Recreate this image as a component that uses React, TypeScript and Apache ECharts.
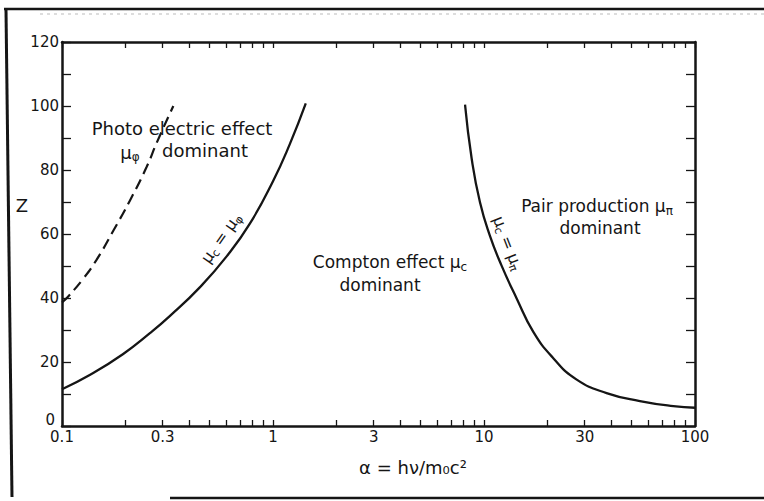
import React, { useEffect, useRef } from "react";
import * as echarts from "echarts";

// ---- data ----
// Boundary where photoelectric = Compton (dashed)
const dashedAlpha = [0.1, 0.107, 0.126, 0.146, 0.175, 0.21, 0.252, 0.281, 0.337];
const dashedZ = [38.6, 40.5, 46, 52, 61, 70.5, 81, 88.5, 100];

// mu_c = mu_phi (solid, left)
const leftAlpha = [0.1, 0.136, 0.195, 0.261, 0.325, 0.451, 0.603, 0.778, 1.0, 1.2, 1.43];
const leftZ = [11.5, 16, 22.5, 29, 34.4, 43.4, 53, 63.3, 76.5, 88, 100.8];

// mu_c = mu_pi (solid, right)
const rightAlpha = [8.13, 8.74, 9.57, 10.66, 12.1, 14.3, 17.1, 21.3, 27.5, 38.1, 54.8, 78.9, 100];
const rightZ = [100.4, 83.6, 69.9, 59.5, 50.2, 39.8, 29.5, 21.2, 14.5, 10.3, 7.8, 6.2, 5.7];

// axis ticks
const xLabelValues = [0.1, 0.3, 1, 3, 10, 30, 100];
const xLabelTexts = ["0.1", "0.3", "1", "3", "10", "30", "100"];
const xTickValues = [
  0.1, 0.2, 0.3, 0.4, 0.5, 0.6, 0.7, 0.8, 0.9,
  1, 2, 3, 4, 5, 6, 7, 8, 9,
  10, 20, 30, 40, 50, 60, 70, 80, 90, 100,
];
const yLabelValues = [0, 20, 40, 60, 80, 100, 120];

const FONT = "DejaVu Sans";
const INK = "#151515";

const toXY = (a: number[], z: number[]) => a.map((v, i) => [Math.log10(v), z[i]]);

export default function App() {
  const ref = useRef<HTMLDivElement>(null);
  useEffect(() => {
    if (!ref.current) return;
    const chart = echarts.init(ref.current, null, { renderer: "svg" });
    const xLog = xLabelValues.map((v) => Math.log10(v));
    const xTicks = xTickValues.map((v) => Math.log10(v));
    const fmtX = (v: number) => {
      for (let i = 0; i < xLog.length; i++) if (Math.abs(xLog[i] - v) < 1e-6) return xLabelTexts[i];
      return "";
    };
    const axisLine = { show: true, onZero: false, lineStyle: { color: INK, width: 2.5 } };
    const tickStyle = { color: INK, width: 1.3 };
    const mkRich = (big: number, small: number) => ({
      m: { fontSize: big, fontFamily: FONT, fill: INK, lineHeight: big + 4 },
      s: { fontSize: small, fontFamily: FONT, fill: INK, lineHeight: small, verticalAlign: "bottom" },
    });
    const txt = (x: number, y: number, text: string, size = 18, rotation = 0, small = 12) => ({
      type: "text",
      x,
      y,
      rotation,
      silent: true,
      style: {
        text,
        rich: mkRich(size, small),
        fontSize: size,
        fontFamily: FONT,
        fill: INK,
        align: "center",
        verticalAlign: "middle",
      },
    });
    chart.setOption({
      animation: false,
      backgroundColor: "#ffffff",
      grid: { left: 62, right: 69, top: 42, bottom: 75 },
      xAxis: [
        {
          type: "value",
          min: -1,
          max: 2,
          position: "bottom",
          axisLine,
          splitLine: { show: false },
          axisTick: { show: true, inside: true, length: 6, lineStyle: tickStyle, customValues: xTicks },
          axisLabel: {
            customValues: xLog,
            formatter: fmtX,
            fontFamily: FONT,
            fontSize: 15,
            color: INK,
            margin: 3,
          },
        },
        {
          type: "value",
          min: -1,
          max: 2,
          position: "top",
          axisLine,
          splitLine: { show: false },
          axisTick: { show: true, inside: true, length: 6, lineStyle: tickStyle, customValues: xTicks },
          axisLabel: { show: false },
        },
      ],
      yAxis: [
        {
          type: "value",
          min: 0,
          max: 120,
          interval: 10,
          position: "left",
          axisLine,
          splitLine: { show: false },
          axisTick: { show: true, inside: true, length: 9, lineStyle: tickStyle },
          axisLabel: {
            customValues: yLabelValues,
            formatter: (v: number) => (v === 0 ? "{z|0}" : String(v)),
            rich: { z: { fontFamily: FONT, fontSize: 15, color: INK, padding: [0, 4, 12, 0] } },
            fontFamily: FONT,
            fontSize: 15,
            color: INK,
            margin: 3,
          },
        },
        {
          type: "value",
          min: 0,
          max: 120,
          interval: 10,
          position: "right",
          axisLine,
          splitLine: { show: false },
          axisTick: { show: true, inside: true, length: 9, lineStyle: tickStyle },
          axisLabel: { show: false },
        },
      ],
      series: [
        {
          type: "line",
          data: toXY(dashedAlpha, dashedZ),
          smooth: true,
          showSymbol: false,
          lineStyle: { color: INK, width: 2.2, type: [11, 6] },
        },
        {
          type: "line",
          data: toXY(leftAlpha, leftZ),
          smooth: true,
          showSymbol: false,
          lineStyle: { color: INK, width: 2.3 },
        },
        {
          type: "line",
          data: toXY(rightAlpha, rightZ),
          smooth: true,
          showSymbol: false,
          lineStyle: { color: INK, width: 2.3 },
        },
      ],
      graphic: [
        // outer frame of the scanned page
        { type: "line", silent: true, shape: { x1: 4, y1: 9, x2: 764, y2: 9 }, style: { stroke: INK, lineWidth: 2.5 } },
        { type: "line", silent: true, shape: { x1: 40, y1: 14, x2: 764, y2: 14 }, style: { stroke: "#bbbbbb", lineWidth: 1, lineDash: [3, 4] } },
        { type: "line", silent: true, shape: { x1: 6, y1: 10, x2: 12, y2: 497 }, style: { stroke: INK, lineWidth: 3 } },
        { type: "line", silent: true, shape: { x1: 170, y1: 498, x2: 764, y2: 498 }, style: { stroke: INK, lineWidth: 2.5 } },
        // annotations
        txt(182, 128, "Photo electric effect"),
        txt(130, 152, "{m|μ}{s|φ}"),
        txt(205, 150, "dominant"),
        txt(390, 262, "{m|Compton effect μ}{s|c}", 17),
        txt(380, 285, "dominant", 17),
        txt(597, 206, "{m|Pair production μ}{s|π}", 17),
        txt(600, 228, "dominant", 17),
        txt(221, 238, "{m|μ}{s|c}{m| = μ}{s|φ}", 16, 0.96, 11),
        txt(508, 243, "{m|μ}{s|c}{m| = μ}{s|π}", 16, -1.2, 11),
        txt(22, 205, "Z", 18),
        txt(413, 467, "α = hν/m₀c²", 18),
      ],
    });
    return () => chart.dispose();
  }, []);
  return (
    <div
      ref={ref}
      style={{ position: "fixed", left: 0, top: 0, width: 764, height: 501, background: "#fff" }}
    />
  );
}
